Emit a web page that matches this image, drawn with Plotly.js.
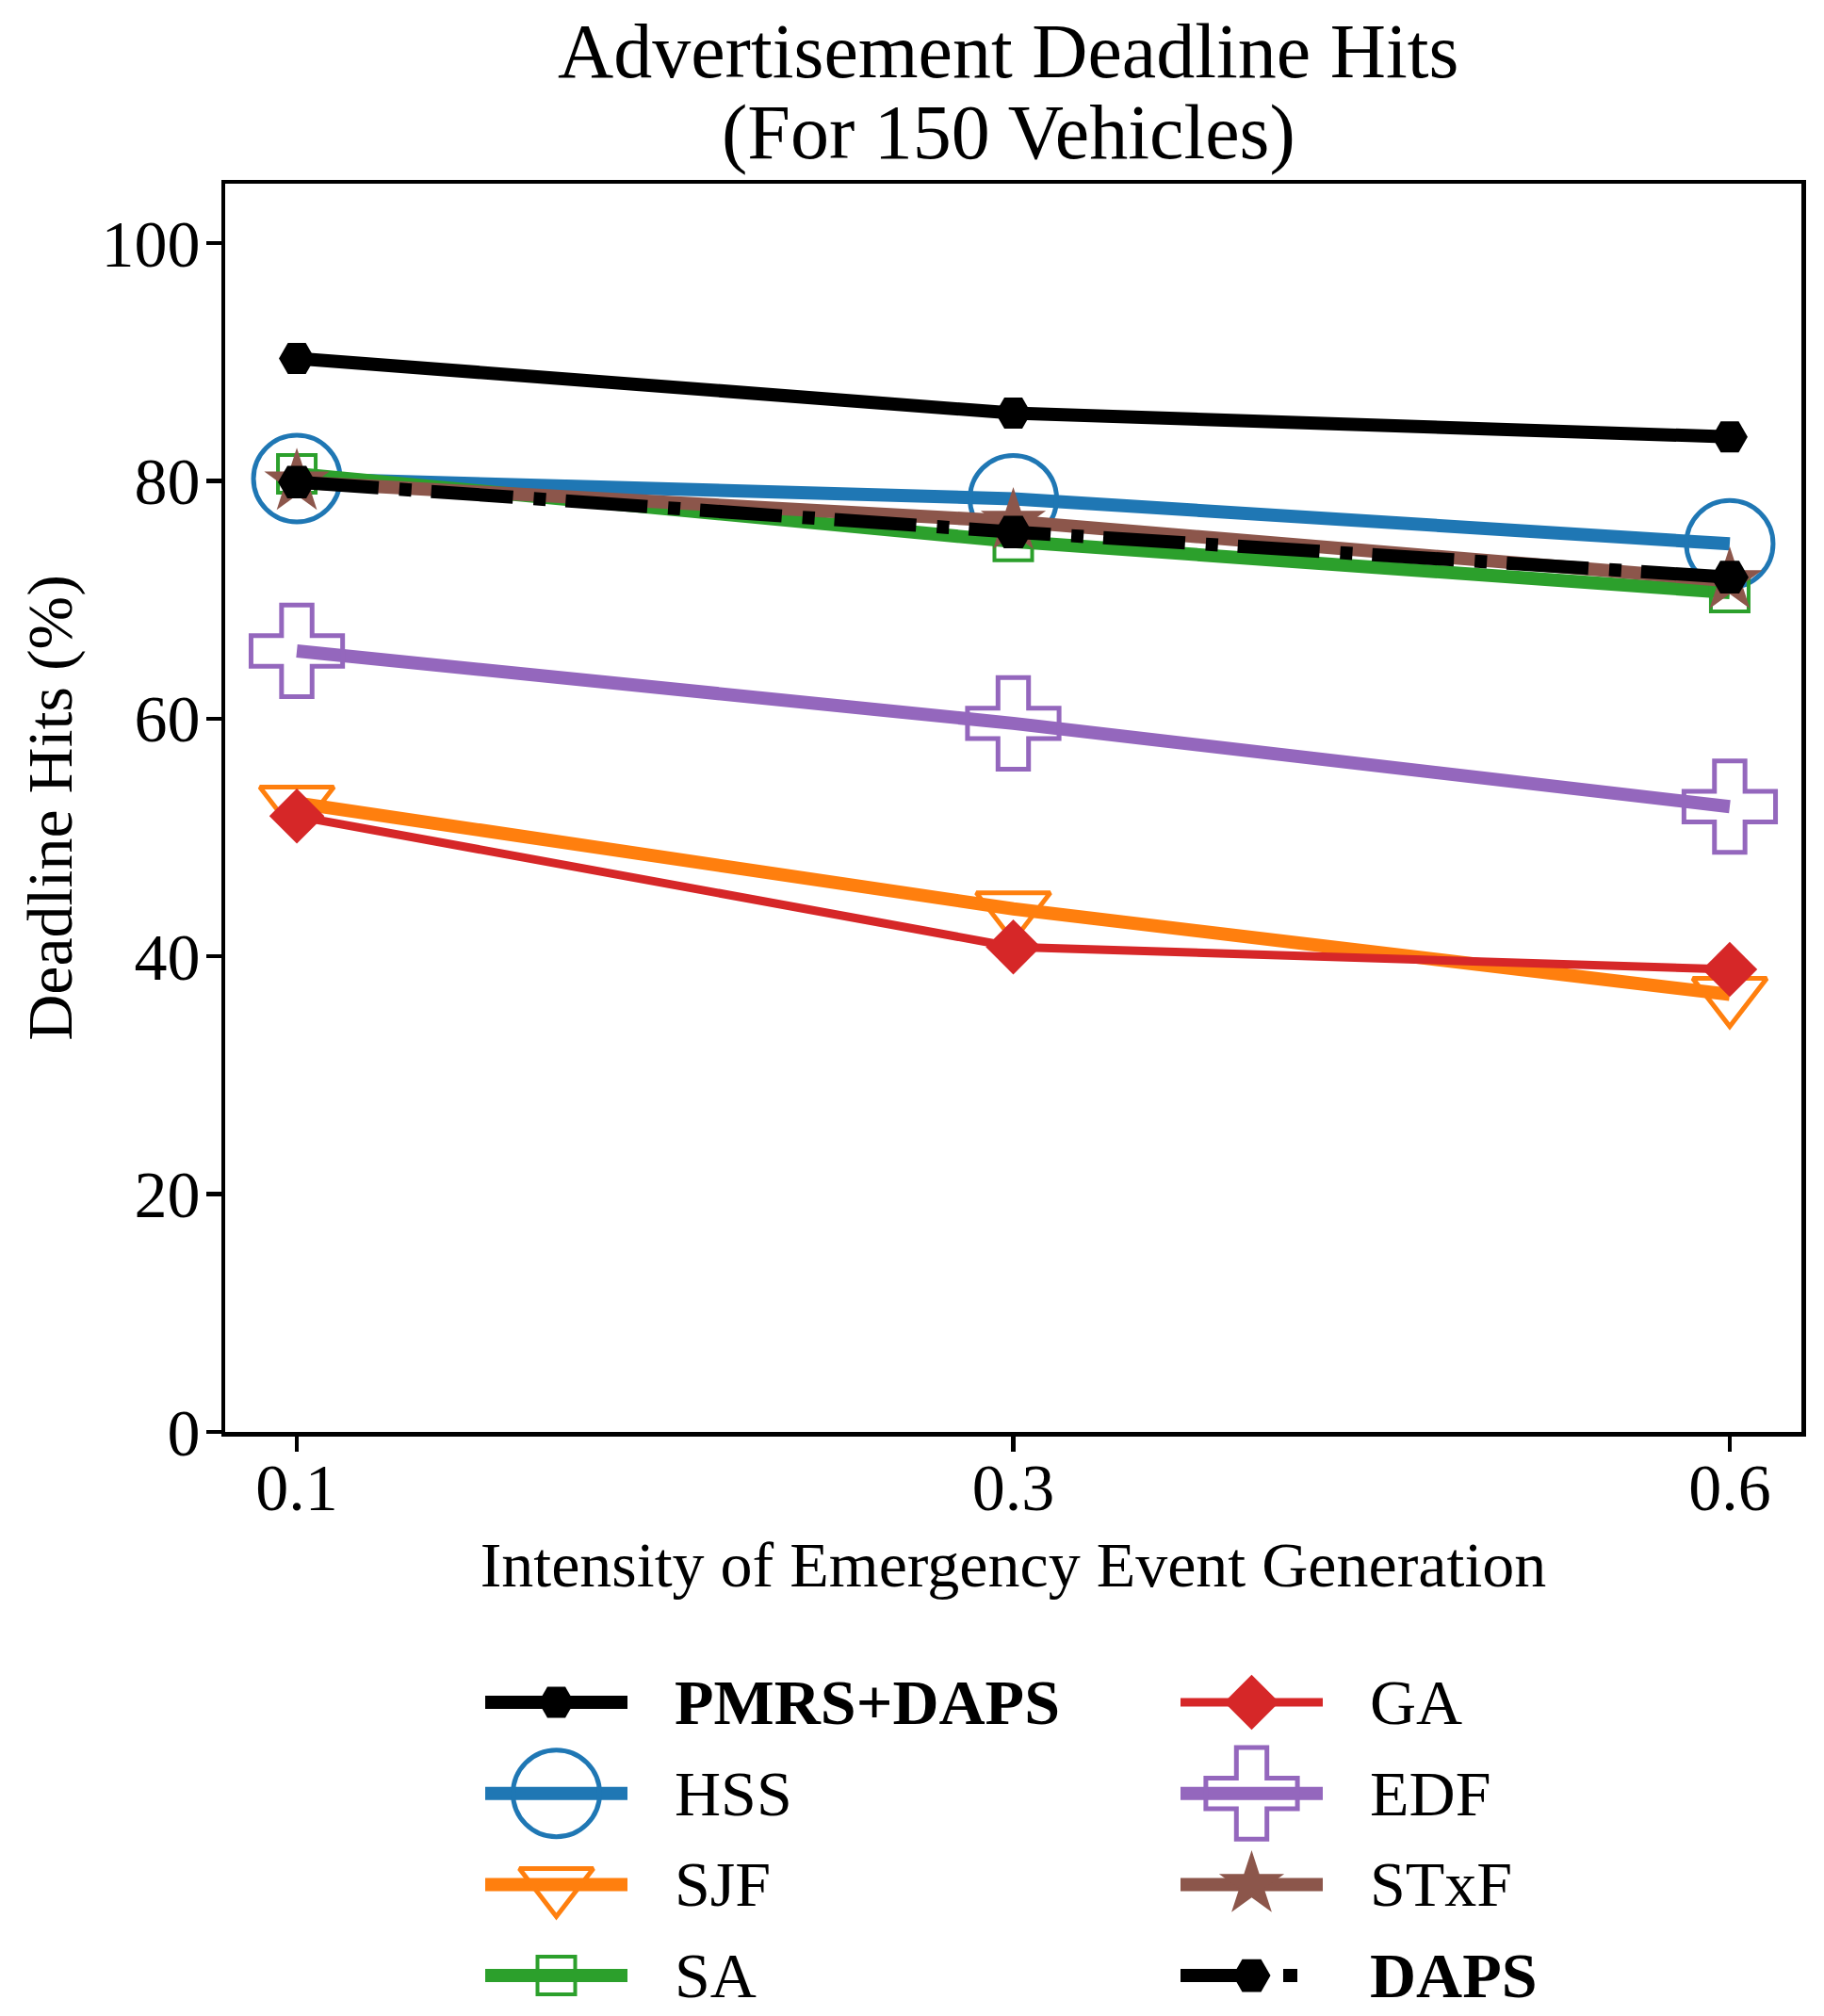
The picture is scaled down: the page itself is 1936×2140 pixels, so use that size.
<!DOCTYPE html>
<html>
<head>
<meta charset="utf-8">
<script src="https://cdn.plot.ly/plotly-3.0.1.min.js"></script>
<style>
  html, body { margin: 0; padding: 0; background: #fff; }
  #chart { width: 1936px; height: 2140px; }
</style>
</head>
<body>
<div id="chart"></div>
<script>
// emergency event intensity (categorical ticks)
const intensity = ['0.1', '0.3', '0.6'];

// deadline hits (%) per scheduler
const pmrsDaps = [90.3, 85.7, 83.7];
const hss = [80.2, 78.5, 74.7];
const sjf = [52.9, 44.0, 36.8];
const sa = [80.6, 74.9, 70.6];
const ga = [51.8, 40.8, 38.9];
const edf = [65.7, 59.6, 52.6];
const stxf = [79.9, 76.6, 71.6];
const daps = [79.9, 75.7, 71.9];

const yTicks = [0, 20, 40, 60, 80, 100];

const FONT = 'Liberation Serif, Times New Roman, serif';
const W = 1936, H = 2140;
const M = { l: 239, r: 24, t: 195, b: 20 };
const plotH = H - M.t - M.b;
const mainBottom = 1520;          // pixel row of the main x axis
const legendTop = 1735;           // pixel row where the legend box starts

// pixel row -> paper fraction
const py = (y) => (H - M.b - y) / plotH;

const series = [
    { name: '<b>PMRS+DAPS</b>', y: pmrsDaps, color: '#000000', width: 14,
      marker: { symbol: 'hexagon2', size: 38 } },
    { name: 'HSS', y: hss, color: '#1f77b4', width: 14,
      marker: { symbol: 'circle-open', size: 92, line: { width: 5 } } },
    { name: 'SJF', y: sjf, color: '#ff7f0e', width: 14,
      marker: { symbol: 'triangle-down-open', size: 68, line: { width: 5 } } },
    { name: 'SA', y: sa, color: '#2ca02c', width: 14,
      marker: { symbol: 'square-open', size: 40, line: { width: 4 } } },
    { name: 'GA', y: ga, color: '#d62728', width: 9,
      marker: { symbol: 'diamond', size: 45 } },
    { name: 'EDF', y: edf, color: '#9467bd', width: 14,
      marker: { symbol: 'cross-open', size: 81, line: { width: 5 } } },
    { name: 'STxF', y: stxf, color: '#8c564b', width: 14,
      marker: { symbol: 'star', size: 52 } },
    { name: '<b>DAPS</b>', y: daps, color: '#000000', width: 14,
      dash: '87px,22px,13px,21px', legendDash: '89px,20px,15px,40px',
      marker: { symbol: 'hexagon2', size: 40 } },
];

function markerOf(s, opacity) {
    return {
        symbol: s.marker.symbol,
        size: s.marker.size,
        color: s.color,
        opacity: opacity,
        line: { color: s.color, width: (s.marker.line || {}).width || 0 },
    };
}

const traces = series.map(s => ({
    type: 'scatter',
    mode: 'lines+markers',
    name: s.name,
    x: intensity,
    y: s.y,
    line: { color: s.color, width: s.width, dash: s.dash || 'solid' },
    marker: markerOf(s, 1),
    cliponaxis: false,
    showlegend: false,
    hoverinfo: 'skip',
}));

// hand-built legend: two columns of four, on a hidden pixel-scaled axis pair
const legendCol = { x0: 515, step: 738, handle: 151, textGap: 199 };
const legendRow = { y0: 1807, step: 96.7 };
const annotations = [];

series.forEach((s, i) => {
    const col = Math.floor(i / 4);
    const row = i % 4;
    const x0 = legendCol.x0 + col * legendCol.step;
    const yRow = legendRow.y0 + row * legendRow.step;
    traces.push({
        type: 'scatter',
        mode: 'lines+markers',
        x: [x0, x0 + legendCol.handle / 2, x0 + legendCol.handle],
        y: [yRow, yRow, yRow],
        xaxis: 'x2',
        yaxis: 'y2',
        line: { color: s.color, width: s.width, dash: s.legendDash || s.dash || 'solid' },
        marker: markerOf(s, [0, 1, 0]),
        cliponaxis: false,
        showlegend: false,
        hoverinfo: 'skip',
    });
    annotations.push({
        xref: 'x2', yref: 'y2',
        x: x0 + legendCol.textGap, y: yRow,
        xanchor: 'left', yanchor: 'middle',
        text: s.name,
        showarrow: false,
        font: { family: FONT, size: 68, color: '#000' },
    });
});

// two-line title
annotations.push(
    { xref: 'paper', yref: 'paper', x: 0.497, y: py(55), xanchor: 'center', yanchor: 'middle',
      text: 'Advertisement Deadline Hits', showarrow: false,
      font: { family: FONT, size: 82, color: '#000' } },
    { xref: 'paper', yref: 'paper', x: 0.497, y: py(140), xanchor: 'center', yanchor: 'middle',
      text: '(For 150 Vehicles)', showarrow: false,
      font: { family: FONT, size: 82, color: '#000' } },
);

const axisStyle = {
    showline: true,
    mirror: true,
    linecolor: '#000',
    linewidth: 4.5,
    ticks: 'outside',
    ticklen: 16,
    tickwidth: 4.5,
    tickcolor: '#000',
    showgrid: false,
    zeroline: false,
    tickfont: { family: FONT, size: 70, color: '#000' },
};

const hiddenAxis = {
    visible: false,
    showgrid: false,
    zeroline: false,
    fixedrange: true,
};

const layout = {
    width: W,
    height: H,
    paper_bgcolor: '#fff',
    plot_bgcolor: 'rgba(0,0,0,0)',
    margin: M,
    font: { family: FONT, color: '#000' },
    showlegend: false,
    xaxis: {
        ...axisStyle,
        type: 'category',
        range: [-0.1, 2.1],
        anchor: 'y',
        ticklabelstandoff: -22,
        title: { text: 'Intensity of Emergency Event Generation', standoff: 21,
                 font: { family: FONT, size: 68, color: '#000' } },
    },
    yaxis: {
        ...axisStyle,
        domain: [py(mainBottom), 1],
        range: [0, 105],
        tickvals: yTicks,
        anchor: 'x',
        ticklabelstandoff: -8,
        title: { text: 'Deadline Hits (%)', standoff: 10,
                 font: { family: FONT, size: 68, color: '#000' } },
    },
    xaxis2: {
        ...hiddenAxis,
        anchor: 'y2',
        domain: [0, 1],
        range: [M.l, W - M.r],
    },
    yaxis2: {
        ...hiddenAxis,
        anchor: 'x2',
        domain: [0, py(legendTop)],
        range: [H - M.b, legendTop],
    },
    annotations: annotations,
};

Plotly.newPlot('chart', traces, layout, { displayModeBar: false, staticPlot: true });
</script>
</body>
</html>
